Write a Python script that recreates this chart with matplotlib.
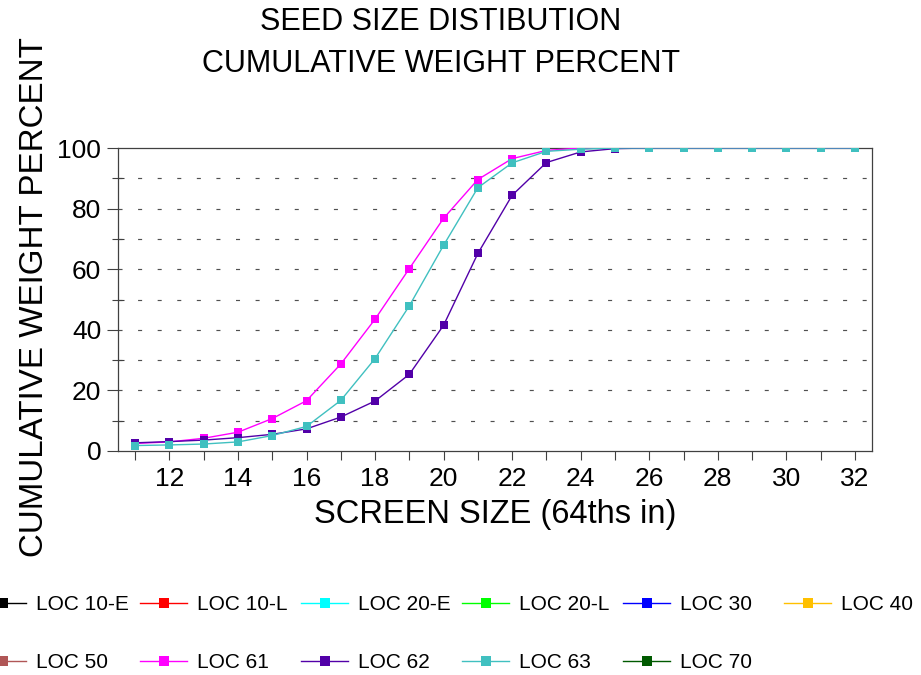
import matplotlib
matplotlib.use("Agg")
import matplotlib.pyplot as plt
from matplotlib.ticker import FixedLocator, NullFormatter

plt.rcParams['font.family'] = ['Liberation Sans', 'DejaVu Sans']
plt.rcParams['lines.scale_dashes'] = False

# ---- data ----
screen_size = list(range(11, 33))
series_names = ["LOC 10-E", "LOC 10-L", "LOC 20-E", "LOC 20-L", "LOC 30", "LOC 40",
                "LOC 50", "LOC 61", "LOC 62", "LOC 63", "LOC 70"]
series_colors = ["#000000", "#FF0000", "#00FFFF", "#00FF00", "#0000FF", "#FFC000",
                 "#B05656", "#FF00FF", "#5200A8", "#40C0C0", "#005A00"]

loc_10e = []
loc_10l = []
loc_20e = []
loc_20l = []
loc_30 = []
loc_40 = []
loc_50 = []
loc_61 = [2.5, 3.0, 4.2, 6.2, 10.7, 16.6, 28.7, 43.5, 60.2, 76.8, 89.6, 96.5,
          99.2, 100, 100, 100, 100, 100, 100, 100, 100, 100]
loc_62 = [2.7, 3.1, 3.6, 4.4, 5.5, 7.3, 11.2, 16.5, 25.3, 41.5, 65.2, 84.4,
          95.2, 98.7, 99.8, 100, 100, 100, 100, 100, 100, 100]
loc_63 = [1.8, 2.0, 2.3, 3.0, 5.1, 8.1, 16.7, 30.5, 47.9, 67.9, 86.9, 95.1,
          98.9, 99.6, 100, 100, 100, 100, 100, 100, 100, 100]
loc_70 = []
series_values = [loc_10e, loc_10l, loc_20e, loc_20l, loc_30, loc_40,
                 loc_50, loc_61, loc_62, loc_63, loc_70]

x_tick_labels = [12, 14, 16, 18, 20, 22, 24, 26, 28, 30, 32]
y_tick_labels = [0, 20, 40, 60, 80, 100]

title_text = "SEED SIZE DISTIBUTION\nCUMULATIVE WEIGHT PERCENT"
x_label = "SCREEN SIZE (64ths in)"
y_label = "CUMULATIVE WEIGHT PERCENT"

# ---- figure ----
W, H = 921, 675
fig = plt.figure(figsize=(W / 100, H / 100), dpi=100)
ax = fig.add_axes([118 / W, 1 - 451 / H, 754 / W, 303 / H])

handles = []
for name, color, vals in zip(series_names, series_colors, series_values):
    xs = screen_size[:len(vals)]
    (h,) = ax.plot(xs, vals, color=color, lw=1.0, marker='s', markersize=5.2,
                   markeredgewidth=0, label=name, zorder=3)
    handles.append(h)

ax.set_xlim(10.5, 32.5)
ax.set_ylim(0, 100)

ax.xaxis.set_major_locator(FixedLocator(x_tick_labels))
ax.xaxis.set_minor_locator(FixedLocator([v for v in screen_size if v not in x_tick_labels]))
ax.yaxis.set_major_locator(FixedLocator(y_tick_labels))
ax.yaxis.set_minor_locator(FixedLocator([10, 30, 50, 70, 90]))
ax.xaxis.set_minor_formatter(NullFormatter())

ax.tick_params(axis='x', which='both', direction='out', length=6.5, width=0.8,
               color='#404040', labelsize=19, pad=5)
ax.tick_params(axis='y', which='major', direction='out', length=8, width=0.8,
               color='#404040', labelsize=19, pad=4)
ax.tick_params(axis='y', which='minor', direction='inout', length=8.5, width=0.8,
               color='#404040')

for gy in [10, 20, 30, 40, 50, 60, 70, 80, 90]:
    ax.axhline(gy, color='#505050', lw=0.85, linestyle=(0, (2.9, 11.2)), zorder=1)

for sp in ax.spines.values():
    sp.set_color('#404040')
    sp.set_linewidth(0.9)

ax.set_xlabel(x_label, fontsize=23.5, labelpad=5.6)
ax.set_ylabel(y_label, fontsize=23.9)
ax.yaxis.set_label_coords(-0.09, 0.508)

fig.text(441 / W, 1 - 7 / H, title_text, ha='center', va='top', fontsize=22,
         linespacing=1.52)

# ---- legend: 6 columns of fixed width ----
col_x = [-21, 140, 301, 462, 623, 784]
for ci, cx in enumerate(col_x):
    idx = [ci, ci + 6] if ci + 6 < len(handles) else [ci]
    fig.legend([handles[i] for i in idx], [series_names[i] for i in idx],
               loc='upper left', bbox_to_anchor=(cx / W, 1 - 595 / H),
               frameon=False, borderpad=0, borderaxespad=0, fontsize=15,
               handlelength=2.26, handletextpad=0.48, labelspacing=1.89,
               markerscale=1.25)

fig.savefig("out.png", dpi=100)
